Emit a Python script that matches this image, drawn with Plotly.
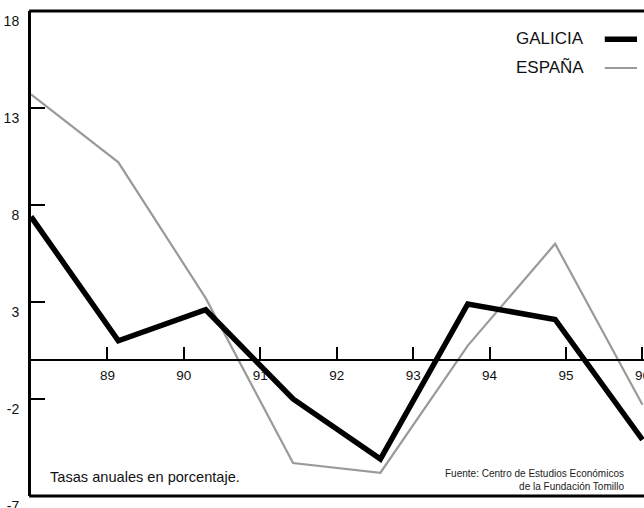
import plotly.graph_objects as go

# Data (annual rates, %), eight yearly observations spread evenly across the frame
periods = ["1988", "1989", "1990", "1991", "1992", "1993", "1994", "1995"]
galicia = [7.4, 1.0, 2.6, -2.0, -5.1, 2.9, 2.1, -4.1]
espana = [13.7, 10.2, 3.2, -5.3, -5.8, 0.75, 6.0, -2.3]
x_ticks = [89, 90, 91, 92, 93, 94, 95, 96]
y_ticks = [18, 13, 8, 3, -2, -7]

X_START, X_END = 88, 96          # span of the observations
STEP = (X_END - X_START) / (len(periods) - 1)

FONT = "Liberation Sans, Arial, Helvetica, sans-serif"
TXT = "#111111"

fig = go.Figure()
fig.add_trace(go.Scatter(y=espana, x0=X_START, dx=STEP, text=periods, mode="lines",
                         name="ESPAÑA", line=dict(color="#9a9a9a", width=2.2),
                         showlegend=False))
fig.add_trace(go.Scatter(y=galicia, x0=X_START, dx=STEP, text=periods, mode="lines",
                         name="GALICIA", line=dict(color="#000000", width=5.5),
                         showlegend=False))

zero_pos = 7 / 25  # fraction of the y range where value 0 sits

fig.update_layout(
    width=644, height=508,
    margin=dict(l=31, r=0, t=11, b=12, autoexpand=False),
    paper_bgcolor="white", plot_bgcolor="white",
    font=dict(family=FONT, color=TXT),
    xaxis=dict(range=[X_START, X_END + 0.02], anchor="free", position=zero_pos,
               tickvals=x_ticks, ticktext=[str(v) for v in x_ticks],
               ticks="inside", ticklen=12, tickwidth=2, tickcolor="black",
               showline=True, linecolor="black", linewidth=2,
               showgrid=False, zeroline=False, side="bottom", automargin=False,
               ticklabelstandoff=3, ticklabeloverflow="allow",
               tickfont=dict(size=13.5, family=FONT, color=TXT)),
    yaxis=dict(range=[-7, 18], tickvals=y_ticks, ticktext=[str(v) for v in y_ticks],
               ticks="inside", ticklen=14, tickwidth=1.5, tickcolor="black",
               showline=True, linecolor="black", linewidth=3,
               showgrid=False, zeroline=False, automargin=False,
               ticklabelposition="outside bottom", ticklabelstandoff=6,
               ticklabeloverflow="allow",
               tickfont=dict(size=14, family=FONT, color=TXT)),
    showlegend=False,
)

# frame top and bottom
for yy in (0, 1):
    fig.add_shape(type="line", xref="paper", yref="paper", x0=-0.003, x1=1.01, y0=yy, y1=yy,
                  line=dict(color="black", width=3))

# legend (text on the left, line sample on the right)
fig.add_shape(type="line", xref="paper", yref="paper", x0=0.936, x1=0.9886, y0=0.942, y1=0.942,
              line=dict(color="black", width=5.5))
fig.add_shape(type="line", xref="paper", yref="paper", x0=0.936, x1=0.9886, y0=0.8825, y1=0.8825,
              line=dict(color="#9a9a9a", width=2.2))
fig.add_annotation(xref="paper", yref="paper", x=0.905, y=0.944, text="GALICIA",
                   showarrow=False, xanchor="right", yanchor="middle",
                   font=dict(size=17, family=FONT, color=TXT))
fig.add_annotation(xref="paper", yref="paper", x=0.905, y=0.883, text="ESPAÑA",
                   showarrow=False, xanchor="right", yanchor="middle",
                   font=dict(size=17, family=FONT, color=TXT))

fig.add_annotation(xref="paper", yref="paper", x=0.028, y=0.039, text="Tasas anuales en porcentaje.",
                   showarrow=False, xanchor="left", yanchor="middle",
                   font=dict(size=14.6, family=FONT, color=TXT))
fig.add_annotation(xref="paper", yref="paper", x=0.970, y=0.034,
                   text="Fuente: Centro de Estudios Económicos<br>de la Fundación Tomillo",
                   showarrow=False, xanchor="right", yanchor="middle", align="right",
                   font=dict(size=10, family=FONT, color="#222222"))

fig.write_html("out.html", config={"displayModeBar": False},
               post_script="document.body.style.margin='0';")
